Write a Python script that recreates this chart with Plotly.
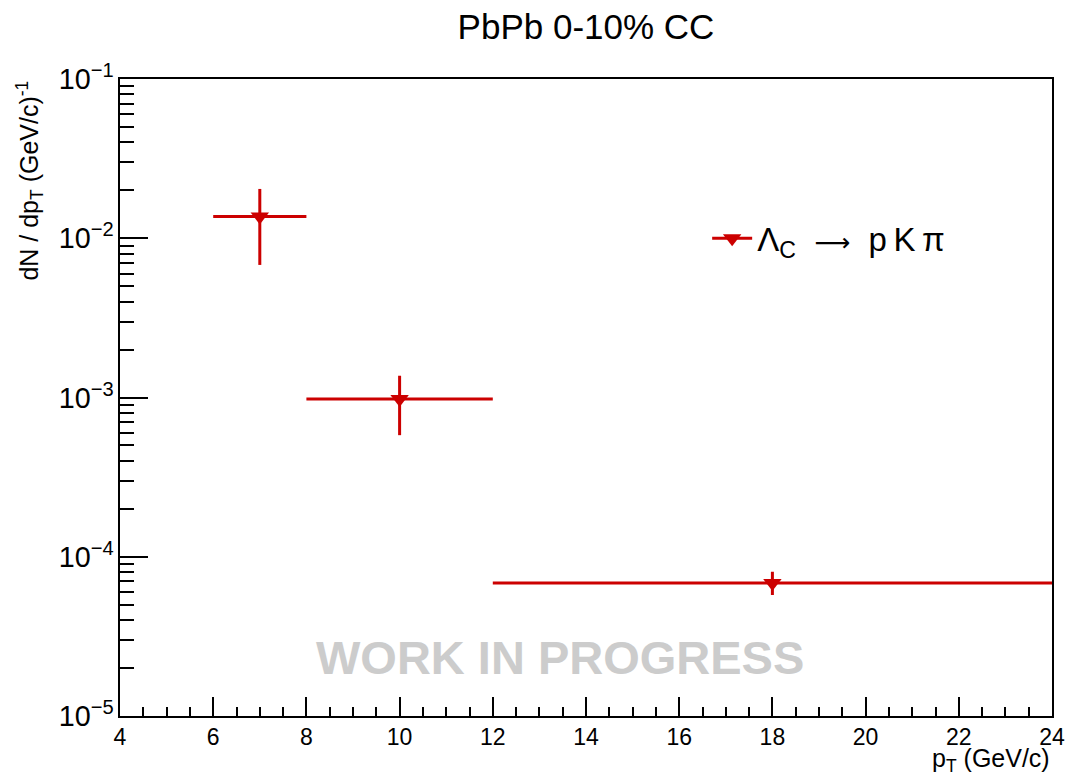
import plotly.graph_objects as go

# Lambda_c -> pK pi yield, PbPb 0-10% centrality
pt_centers = [7.0, 10.0, 18.0]
pt_halfwidth = [1.0, 2.0, 6.0]
yield_vals = [0.0137, 0.00098, 6.85e-5]
yield_err_up = [0.0067, 0.00039, 1.2e-5]
yield_err_down = [0.0069, 0.0004, 1.1e-5]

red = "#cc0000"
font_family = "Liberation Sans, Arial, Helvetica, sans-serif"

fig = go.Figure()

fig.add_trace(go.Scatter(
    x=pt_centers,
    y=yield_vals,
    mode="markers",
    marker=dict(symbol="triangle-down", size=16, color=red),
    error_x=dict(type="data", array=pt_halfwidth, symmetric=True,
                 color=red, thickness=3, width=0),
    error_y=dict(type="data", array=yield_err_up, arrayminus=yield_err_down,
                 symmetric=False, color=red, thickness=3, width=0),
    showlegend=False,
))

# legend entry with a line through the marker
fig.add_trace(go.Scatter(
    x=[None], y=[None],
    mode="lines+markers",
    name=("Λ<sub>C</sub>  "
          "<span style=\"font-family:DejaVu Sans;font-size:25px\">⟶</span>"
          "  p\u2009K\u2009π"),
    line=dict(color=red, width=3),
    marker=dict(symbol="triangle-down", size=16, color=red),
))

fig.update_layout(
    width=1070, height=778,
    margin=dict(l=120, r=18, t=79, b=62, autoexpand=False),
    paper_bgcolor="white",
    plot_bgcolor="white",
    font=dict(family=font_family, color="black"),
    title=dict(text="PbPb 0-10% CC", x=0.5, xref="paper", xanchor="center",
               y=0.965, yanchor="middle", font=dict(size=35, color="black")),
    legend=dict(x=0.630, y=0.75, xanchor="left", yanchor="middle",
                bgcolor="rgba(0,0,0,0)", font=dict(size=33),
                itemwidth=40),
)

fig.update_xaxes(
    range=[4, 24], tick0=4, dtick=2, automargin=False,
    ticks="inside", ticklen=19, tickwidth=1.5, tickcolor="black",
    minor=dict(dtick=0.5, ticks="inside", ticklen=9, tickwidth=1.5,
               tickcolor="black", showgrid=False),
    showline=True, linecolor="black", linewidth=1.5, mirror=True,
    showgrid=False, zeroline=False,
    tickfont=dict(size=23),
)

fig.update_yaxes(
    type="log", range=[-5, -1], dtick=1, automargin=False,
    exponentformat="power",
    ticks="inside", ticklen=28, tickwidth=1.5, tickcolor="black",
    minor=dict(dtick="D1", ticks="inside", ticklen=14, tickwidth=1.5,
               tickcolor="black", showgrid=False),
    showline=True, linecolor="black", linewidth=1.5, mirror=True,
    showgrid=False, zeroline=False,
    tickfont=dict(size=23),
)

fig.add_annotation(
    text="dN / dp<sub>T</sub> (GeV/c)<sup>-1</sup>",
    xref="paper", yref="paper", x=-0.097, y=1.0,
    xanchor="center", yanchor="top", textangle=-90,
    showarrow=False, font=dict(size=25),
)

fig.add_annotation(
    text="p<sub>T</sub> (GeV/c)",
    xref="paper", yref="paper", x=1.0, y=-0.069,
    xanchor="right", yanchor="middle",
    showarrow=False, font=dict(size=25),
)

fig.add_annotation(
    text="<b>WORK IN PROGRESS</b>",
    xref="paper", yref="paper", x=0.472, y=0.0926,
    xanchor="center", yanchor="middle",
    showarrow=False, font=dict(size=47, color="#cccccc"),
)

fig.write_html("out.html")
